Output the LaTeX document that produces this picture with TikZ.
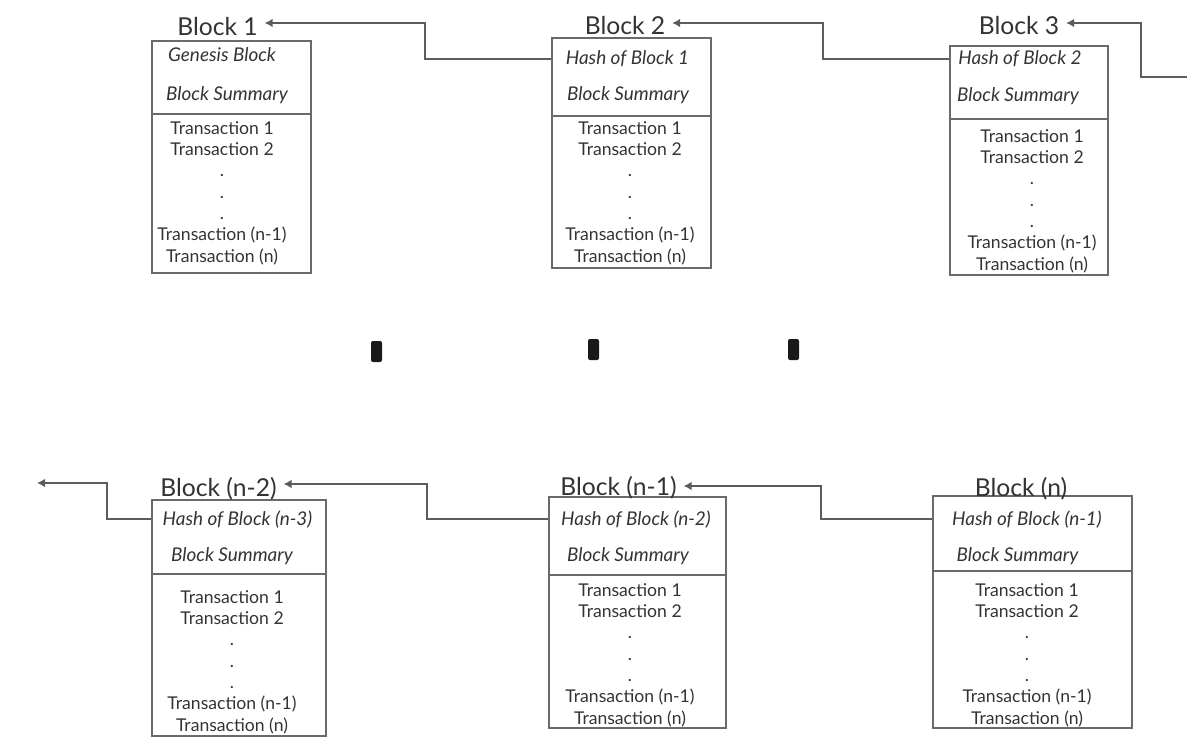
\documentclass[tikz,border=0pt]{standalone}
\usepackage{fontspec}
\setmainfont{Lato}
\usetikzlibrary{arrows.meta,fit}
\definecolor{linegray}{HTML}{5C5C5C}
\definecolor{boxgray}{HTML}{6A6A6A}
\definecolor{textgray}{HTML}{333333}

\begin{document}
\begin{tikzpicture}[x=0.75pt, y=-0.75pt, >={Latex[length=6pt,width=6.5pt]},
	every node/.style={text=textgray},
	blockbox/.style={draw=boxgray, line width=0.8pt, inner sep=0pt},
	blocktitle/.style={font=\fontsize{18.5}{20}\selectfont, anchor=base, inner xsep=5pt},
	headline/.style={font=\fontsize{14.2}{16}\selectfont\itshape, anchor=base, inner sep=0pt},
	txlist/.style={font=\fontsize{13.2}{16}\selectfont, align=center, anchor=base, inner sep=0pt},
	divider/.style={boxgray, line width=0.8pt},
	chain/.style={->, draw=linegray, line width=1.1pt}]
	\useasboundingbox (0,0) rectangle (1187,738);
	% top row (txlist sits on the baseline of its last line)
	\node[blockbox, fit={(152,41) (311,273)}] (b1) {};
	\node[blocktitle] (l1) at (217.5,36) {Block 1};
	\node[headline] (h1) at (222,62) {Genesis Block};
	\node[headline] (s1) at (227,101) {Block Summary};
	\draw[divider] (152,114) -- (311,114);
	\node[txlist] (x1) at (222,262) {Transaction 1\\Transaction 2\\.\\.\\.\\Transaction (n-1)\\Transaction (n)};

	\node[blockbox, fit={(552,38) (711,268)}] (b2) {};
	\node[blocktitle] (l2) at (625,35) {Block 2};
	\node[headline] (h2) at (627.5,65) {Hash of Block 1};
	\node[headline] (s2) at (628,101) {Block Summary};
	\draw[divider] (552,116) -- (711,116);
	\node[txlist] (x2) at (630,262) {Transaction 1\\Transaction 2\\.\\.\\.\\Transaction (n-1)\\Transaction (n)};

	\node[blockbox, fit={(950,46) (1108,275)}] (b3) {};
	\node[blocktitle] (l3) at (1019,35) {Block 3};
	\node[headline] (h3) at (1020,65) {Hash of Block 2};
	\node[headline] (s3) at (1018,102) {Block Summary};
	\draw[divider] (950,119) -- (1108,119);
	\node[txlist] (x3) at (1032,270) {Transaction 1\\Transaction 2\\.\\.\\.\\Transaction (n-1)\\Transaction (n)};

	% bottom row
	\node[blockbox, fit={(152,500) (326,736)}] (bn2) {};
	\node[blocktitle] (ln2) at (218.5,496) {Block (n-2)};
	\node[headline] (hn2) at (237.5,525) {Hash of Block (n-3)};
	\node[headline] (sn2) at (232,561) {Block Summary};
	\draw[divider] (152,574) -- (326,574);
	\node[txlist] (xn2) at (232,731) {Transaction 1\\Transaction 2\\.\\.\\.\\Transaction (n-1)\\Transaction (n)};

	\node[blockbox, fit={(549,497) (726,728)}] (bn1) {};
	\node[blocktitle] (ln1) at (618.5,495) {Block (n-1)};
	\node[headline] (hn1) at (636,525) {Hash of Block (n-2)};
	\node[headline] (sn1) at (628,561) {Block Summary};
	\draw[divider] (549,575) -- (726,575);
	\node[txlist] (xn1) at (630,724) {Transaction 1\\Transaction 2\\.\\.\\.\\Transaction (n-1)\\Transaction (n)};

	\node[blockbox, fit={(933,496) (1132,728)}] (bn) {};
	\node[blocktitle] (ln) at (1021,496) {Block (n)};
	\node[headline] (hn) at (1027,525) {Hash of Block (n-1)};
	\node[headline] (sn) at (1017.5,561) {Block Summary};
	\draw[divider] (933,571) -- (1132,571);
	\node[txlist] (xn) at (1027,724) {Transaction 1\\Transaction 2\\.\\.\\.\\Transaction (n-1)\\Transaction (n)};

	% hash links back to the previous block
	\coordinate (k1) at (425,23);
	\coordinate (k2) at (823,23);
	\coordinate (k3) at (1141,23);
	\coordinate (in3) at (1187,77);
	\draw[chain] (b2.west |- h2) -| (k1) -- (k1 -| l1.east);
	\draw[chain] (b3.west |- h3) -| (k2) -- (k2 -| l2.east);
	\draw[chain] (in3) -| (k3) -- (k3 -| l3.east);

	\coordinate (k4) at (107,483);
	\coordinate (out0) at (37,483);
	\coordinate (k5) at (427,484);
	\coordinate (k6) at (821,486);
	\draw[chain] (bn2.west |- hn2) -| (k4) -- (out0);
	\draw[chain] (bn1.west |- hn1) -| (k5) -- (k5 -| ln2.east);
	\draw[chain] (bn.west |- hn) -| (k6) -- (k6 -| ln1.east);

	% gap marks between the rows
	\fill[black!90, rounded corners=1.5pt] (371,341) rectangle (382,362);
	\fill[black!90, rounded corners=1.5pt] (588,339) rectangle (599,360);
	\fill[black!90, rounded corners=1.5pt] (788,339) rectangle (799,360);
\end{tikzpicture}
\end{document}
